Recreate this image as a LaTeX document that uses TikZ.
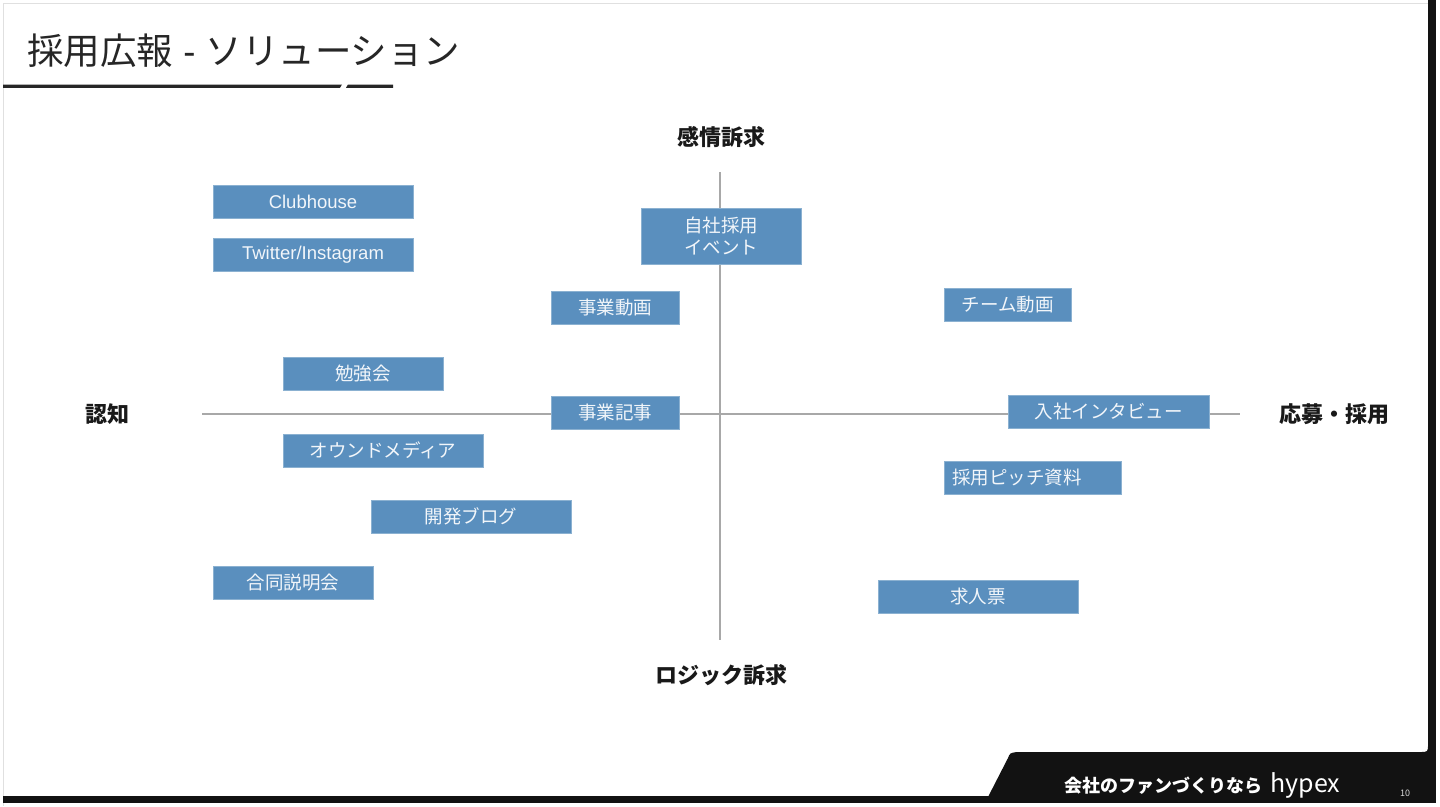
\documentclass[tikz,border=0pt]{standalone}
\usepackage{fontspec}
\setmainfont{Noto Sans CJK JP}
\newfontfamily\latinsans{Liberation Sans}
\usetikzlibrary{calc}
\definecolor{boxblue}{HTML}{5A8FBE}
\definecolor{axisgray}{HTML}{A8A8A8}
\definecolor{footblack}{HTML}{121212}
\begin{document}
\begin{tikzpicture}[x=1pt,y=-1pt,
  sbox/.style={fill=boxblue, draw=boxblue!70!white, line width=0.6pt, text=white!92!boxblue, inner sep=0pt, font=\fontsize{18.5}{21}\selectfont, align=center},
  axislabel/.style={font=\fontsize{22}{25}\selectfont\bfseries, text=black!90},
  axisline/.style={draw=axisgray, line width=1.3pt}]
\useasboundingbox (0,0) rectangle (1440,806);
\fill[white] (0,0) rectangle (1440,806);
% slide frame
\draw[black!12, line width=0.8pt] (3,806) -- (3,3) -- (1430,3);
\fill[footblack] (1428,0) rectangle (1436,803);
\fill[footblack] (3,796) rectangle (1436,803);
\fill[footblack] (988,797) -- (1008,758) .. controls (1010,753) .. (1017,752) -- (1420,752) .. controls (1428,752) .. (1428,744) -- (1428,797) -- cycle;
% title
\node[anchor=west, inner sep=0pt, font=\fontsize{36.5}{40}\selectfont, text=black!85] (title) at (27,51) {採用広報{\latinsans\ - }ソリューション};
\fill[black!85] (3,84.5) -- (342,84.5) -- (340,87.8) -- (3,87.8) -- cycle;
\fill[black!85] (348,84.5) -- (393,84.5) -- (393,87.8) -- (346,87.8) -- cycle;
% axes
\coordinate (hl) at (202,414);
\coordinate (hr) at (1240,414);
\coordinate (vt) at (720,172);
\coordinate (vb) at (720,640);
\draw[axisline] (hl) -- (hr);
\draw[axisline] (vt) -- (vb);
% axis labels
\node[axislabel] (top) at (721,137) {感情訴求};
\node[axislabel] (bottom) at (721,675) {ロジック訴求};
\node[axislabel] (left) at (107,414) {認知};
\node[axislabel] (right) at (1334,414) {応募・採用};
% boxes
\node[sbox, minimum width=200pt, minimum height=33pt, font=\fontsize{18.5}{21}\selectfont\latinsans] (b1) at (313,201.5) {Clubhouse};
\node[sbox, minimum width=200pt, minimum height=33pt, font=\fontsize{18.5}{21}\selectfont\latinsans] (b2) at (313,254.5) {Twitter/Instagram};
\node[sbox, minimum width=160pt, minimum height=56pt, font=\fontsize{18.5}{22.5}\selectfont] (b3) at (721,236) {自社採用\\イベント};
\node[sbox, minimum width=128pt, minimum height=33pt] (b4) at (615,307.5) {事業動画};
\node[sbox, minimum width=127pt, minimum height=33pt] (b5) at (1007.5,304.5) {チーム動画};
\node[sbox, minimum width=160pt, minimum height=33pt] (b6) at (363,373.5) {勉強会};
\node[sbox, minimum width=128pt, minimum height=33pt] (b7) at (615,412.5) {事業記事};
\node[sbox, minimum width=201pt, minimum height=33pt] (b8) at (1108.5,411.5) {入社インタビュー};
\node[sbox, minimum width=200pt, minimum height=33pt] (b9) at (383,450.5) {オウンドメディア};
\node[sbox, minimum width=177pt, minimum height=33pt, text width=171pt, align=left, inner sep=0pt] (b10) at (1032.5,477.5) {\hspace*{5pt}採用ピッチ資料};
\node[sbox, minimum width=200pt, minimum height=33pt] (b11) at (471,516.5) {開発ブログ};
\node[sbox, minimum width=160pt, minimum height=33pt] (b12) at (293,582.5) {合同説明会};
\node[sbox, minimum width=200pt, minimum height=33pt] (b13) at (978,596.5) {求人票};
% footer
\node[anchor=base west, inner sep=0pt, text=white, font=\fontsize{18}{20}\selectfont\bfseries] (foot) at (1064,792) {会社のファンづくりなら};
\node[anchor=base west, inner sep=0pt, text=white, font=\fontsize{25}{28}\selectfont] (hypex) at ($(foot.base east)+(8,0)$) {hypex};
\node[inner sep=0pt, text=white!85!black, font=\fontsize{9}{10}\selectfont] (pnum) at (1405,793) {10};
\end{tikzpicture}
\end{document}
